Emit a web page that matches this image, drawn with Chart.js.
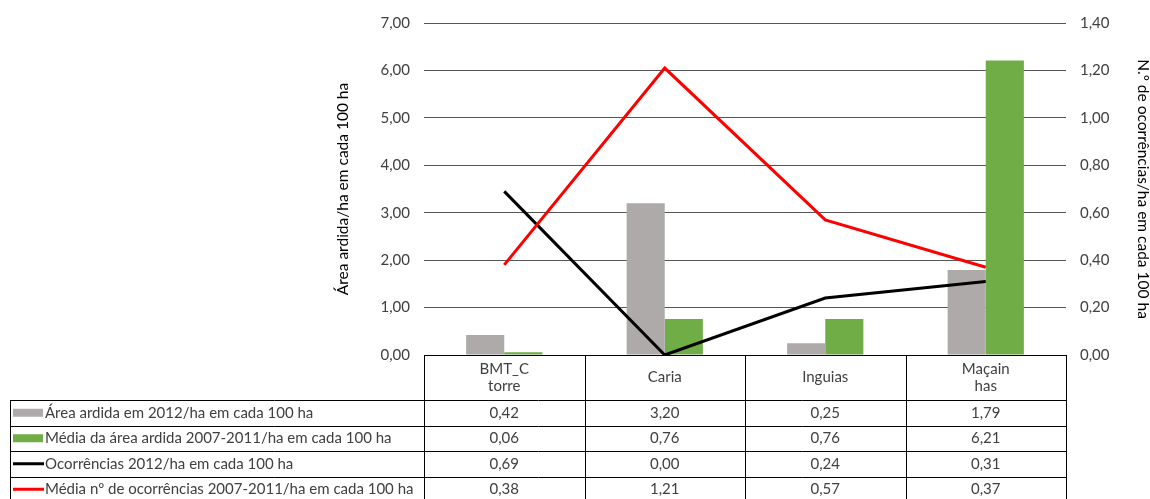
<!DOCTYPE html>
<html>
<head>
<meta charset="utf-8">
<script src="https://cdn.jsdelivr.net/npm/chart.js@4"></script>
<style>
  body { margin: 0; background: #fff; }
</style>
</head>
<body>
<canvas id="grafico" width="1150" height="499"></canvas>
<script>
const categorias = [['BMT_C', 'torre'], ['Caria'], ['Inguias'], ['Maçain', 'has']]
const area2012 = [0.42, 3.20, 0.25, 1.79]
const areaMedia = [0.06, 0.76, 0.76, 6.21]
const ocorr2012 = [0.69, 0.00, 0.24, 0.31]
const ocorrMedia = [0.38, 1.21, 0.57, 0.37]
const nomes = [
    'Área ardida em 2012/ha em cada 100 ha',
    'Média da área ardida 2007-2011/ha em cada 100 ha',
    'Ocorrências 2012/ha em cada 100 ha',
    'Média nº de ocorrências 2007-2011/ha em cada 100 ha'
]
const cores = ['#AEAAAA', '#70AD47', '#000000', '#FF0000']

const fonte = 'Lato, "Open Sans", sans-serif'
const corTexto = '#404040'
const virgula = v => v.toFixed(2).replace('.', ',')

// tabela de dados por baixo do eixo x
const tabela = {
    id: 'tabela',
    afterDraw(chart) {
        const c = chart.ctx
        const x = chart.scales.x
        const topo = chart.chartArea.bottom
        const passo = (x.right - x.left) / categorias.length
        const linhas = [area2012, areaMedia, ocorr2012, ocorrMedia]
        const yCab = topo + 45
        const alt = 25.5
        const esq = 10
        c.save()
        c.strokeStyle = '#000'
        c.lineWidth = 1
        c.beginPath()
        for (let i = 0; i <= categorias.length; i++) {
            const px = Math.round(x.left + i * passo) + 0.5
            c.moveTo(px, topo)
            c.lineTo(px, chart.height)
        }
        c.moveTo(esq + 0.5, yCab)
        c.lineTo(esq + 0.5, chart.height)
        for (let r = 0; r < 4; r++) {
            const py = Math.round(yCab + r * alt) + 0.5
            c.moveTo(esq, py)
            c.lineTo(x.right + 1, py)
        }
        c.stroke()

        c.font = '15px ' + fonte
        c.fillStyle = corTexto
        c.textAlign = 'center'
        c.textBaseline = 'middle'
        categorias.forEach((cat, i) => {
            const cx = x.getPixelForValue(i)
            const meio = topo + 22.5
            cat.forEach((t, k) => {
                c.fillText(t, cx, meio + (k - (cat.length - 1) / 2) * 17)
            })
        })
        linhas.forEach((serie, r) => {
            const cy = yCab + r * alt + alt / 2
            serie.forEach((v, i) => {
                c.fillText(virgula(v), x.getPixelForValue(i), cy)
            })
            c.textAlign = 'left'
            c.fillText(nomes[r], 45, cy)
            c.textAlign = 'center'
            if (r < 2) {
                c.fillStyle = cores[r]
                c.fillRect(13, cy - 4, 30, 8)
            } else {
                c.strokeStyle = cores[r]
                c.lineWidth = 3
                c.beginPath()
                c.moveTo(13, cy)
                c.lineTo(44, cy)
                c.stroke()
            }
            c.fillStyle = corTexto
        })
        c.restore()
    }
}

const ctx = document.getElementById('grafico')
new Chart(ctx, {
    type: 'bar',
    data: {
        labels: categorias,
        datasets: [
            { label: nomes[0], data: area2012, backgroundColor: cores[0], yAxisID: 'y', order: 2 },
            { label: nomes[1], data: areaMedia, backgroundColor: cores[1], yAxisID: 'y', order: 2 },
            { type: 'line', label: nomes[2], data: ocorr2012, borderColor: cores[2], borderWidth: 3, pointRadius: 0, yAxisID: 'y1', order: 1 },
            { type: 'line', label: nomes[3], data: ocorrMedia, borderColor: cores[3], borderWidth: 3, pointRadius: 0, yAxisID: 'y1', order: 0 }
        ]
    },
    options: {
        responsive: false,
        animation: false,
        layout: { padding: { left: 330, top: 18, right: 0, bottom: 0 } },
        datasets: { bar: { categoryPercentage: 0.475, barPercentage: 1 } },
        plugins: { legend: { display: false }, tooltip: { enabled: false } },
        scales: {
            x: {
                ticks: { display: false },
                grid: { display: false },
                border: { color: '#000', width: 1 },
                afterFit: s => { s.height = 144 }
            },
            y: {
                position: 'left',
                min: 0, max: 7,
                ticks: { stepSize: 1, padding: 14, color: corTexto, font: { family: fonte, size: 15 }, callback: v => virgula(v) },
                grid: { color: '#555', drawTicks: false },
                border: { display: false },
                title: { display: true, text: 'Área ardida/ha em cada 100 ha', color: '#000', font: { family: fonte, size: 15.5 } },
                afterFit: s => { s.width = 94 }
            },
            y1: {
                position: 'right',
                min: 0, max: 1.4,
                ticks: { stepSize: 0.2, padding: 14, color: corTexto, font: { family: fonte, size: 15 }, callback: v => virgula(v) },
                grid: { display: false, drawTicks: false },
                border: { display: false },
                title: { display: true, text: 'N.º de ocorrências/ha em cada 100 ha', color: '#000', padding: { top: -2, bottom: 0 }, font: { family: fonte, size: 15.5 } },
                afterFit: s => { s.width = 84 }
            }
        }
    },
    plugins: [tabela]
})
</script>
</body>
</html>
